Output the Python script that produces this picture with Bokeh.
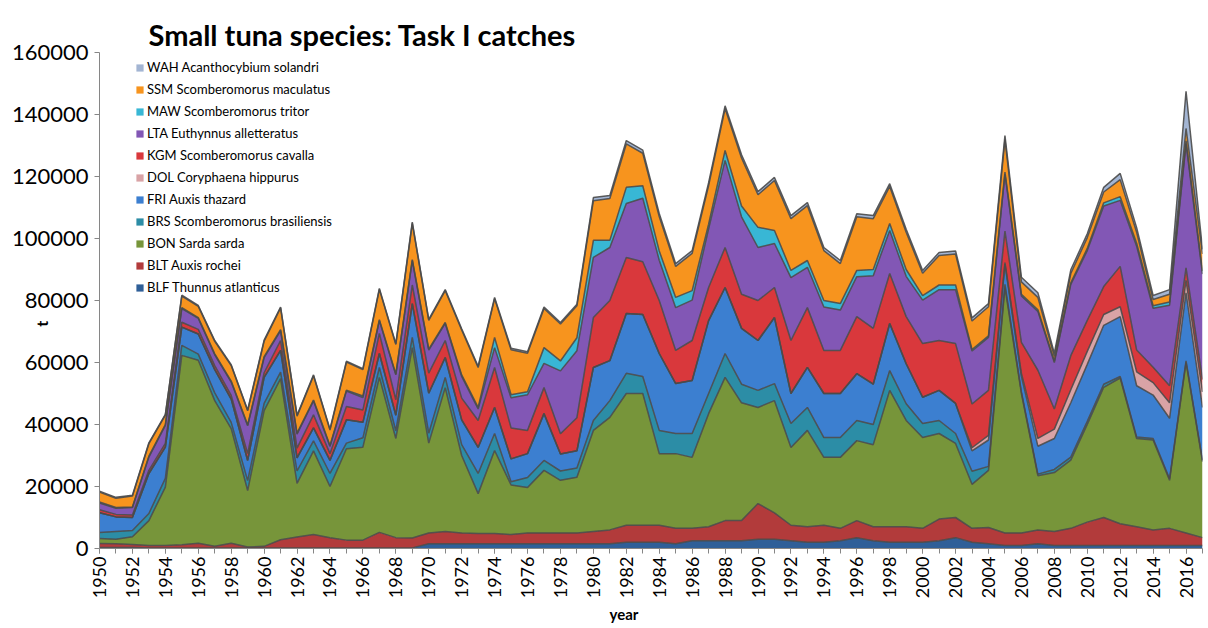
import numpy as np
from bokeh.plotting import figure
from bokeh.models import (ColumnDataSource, Range1d, SingleIntervalTicker,
                          NumeralTickFormatter, Legend, LegendItem, Title)
from bokeh.embed import file_html
from bokeh.resources import INLINE

years = list(range(1950, 2018))

BLF = [300, 300, 300, 200, 200, 200, 200, 200, 200, 200,
       200, 200, 200, 200, 200, 200, 200, 200, 200, 200,
       1500, 1500, 1500, 1500, 1500, 1500, 1500, 1500, 1500, 1500,
       1500, 1500, 2000, 2000, 2000, 1500, 2500, 2500, 2500, 2500,
       3000, 3000, 2500, 2000, 2000, 2500, 3500, 2500, 2000, 2000,
       2000, 2500, 3500, 2000, 1500, 1000, 1000, 1500, 1000, 1000,
       1000, 1000, 1000, 1000, 1000, 1000, 1000, 1000]
BLT = [1300, 1200, 1000, 800, 800, 1000, 1500, 500, 1500, 300,
       500, 2600, 3500, 4300, 3300, 2500, 2500, 5000, 3300, 3200,
       3500, 4000, 3500, 3300, 3300, 3000, 3500, 3500, 3500, 3500,
       4000, 4500, 5500, 5500, 5500, 5000, 4000, 4500, 6500, 6500,
       11500, 8500, 5000, 5000, 5500, 4000, 5500, 4500, 5000, 5000,
       4500, 7000, 6500, 4500, 5300, 4000, 4000, 4500, 4500, 5500,
       7500, 9000, 7000, 6000, 5000, 5500, 4000, 2500]
BON = [1600, 1500, 2500, 8000, 18800, 61100, 59000, 47000, 37000, 18200,
       43800, 52000, 17300, 27000, 16500, 29500, 30000, 50000, 32000, 61400,
       29000, 46400, 25000, 12900, 26800, 16000, 14700, 20200, 17000, 18000,
       32600, 36300, 42500, 42500, 23100, 24100, 22900, 36500, 46200, 38000,
       31000, 36200, 25100, 31100, 21900, 22900, 25800, 26500, 44000, 34300,
       29300, 27600, 23900, 14200, 18400, 79200, 45000, 17500, 19000, 22000,
       31500, 42000, 47000, 28500, 29000, 15500, 55000, 24500]
BRS = [2000, 2500, 2000, 2300, 2800, 3200, 2000, 2500, 2000, 3200,
       2300, 2100, 4000, 3200, 4200, 1800, 3000, 3200, 2500, 3300,
       3200, 3300, 3500, 6500, 5500, 1000, 3200, 3200, 3000, 3000,
       3200, 5400, 6500, 5500, 7500, 6500, 7700, 6500, 7700, 6000,
       5500, 5500, 7700, 7400, 6400, 6400, 6500, 6500, 6400, 5400,
       4500, 4200, 3200, 4200, 1300, 1000, 500, 500, 1000, 1000,
       1000, 1000, 500, 500, 500, 500, 500, 500]
FRI = [6300, 4700, 4200, 12900, 10100, 5900, 6500, 7500, 7500, 6500,
       8400, 7000, 4200, 4200, 4200, 7500, 5000, 4500, 5000, 10900,
       12900, 6400, 8000, 8400, 8400, 7400, 7700, 15100, 5500, 5500,
       17100, 12900, 19300, 20000, 24800, 16100, 17100, 23500, 21300, 18000,
       16100, 21300, 9700, 12900, 14200, 14200, 15100, 13000, 15200, 12900,
       8500, 9700, 9700, 6600, 8500, 6500, 5000, 9000, 10000, 17500,
       18400, 19000, 19300, 16500, 14000, 19500, 22000, 17000]
DOL = [0] * 53 + [1000, 1500, 500, 1000, 2500, 3000, 4200,
                  4200, 3500, 3200, 4500, 4000, 5000, 4000, 5000]
KGM = [1000, 800, 800, 1000, 1200, 1600, 1500, 1300, 1200, 2200,
       1500, 3200, 3200, 4200, 2200, 4300, 4000, 6500, 5000, 6000,
       6500, 5500, 7000, 8700, 12900, 10000, 7500, 8400, 6500, 10700,
       16100, 19400, 18100, 17000, 17100, 10700, 12900, 10700, 12900, 11000,
       12900, 9700, 17100, 19300, 13900, 13900, 18400, 18000, 16100, 15200,
       17300, 16100, 19300, 14100, 14500, 10200, 10000, 22000, 6500, 11000,
       10000, 9000, 13000, 7000, 5000, 5500, 4000, 4000]
LTA = [2200, 2000, 2400, 4300, 5800, 4400, 3500, 3500, 4300, 9000,
       4900, 3200, 4500, 4500, 2300, 5000, 4000, 4100, 8000, 7900,
       7400, 5500, 7000, 3700, 6400, 9700, 11500, 7800, 20300, 21600,
       19400, 17100, 17400, 20500, 13000, 13800, 13000, 18900, 28100, 25000,
       17100, 14200, 20300, 13000, 14000, 13000, 12900, 17000, 13900, 13000,
       14000, 16400, 17400, 17100, 17100, 18400, 15000, 19000, 15000, 23000,
       22500, 26000, 21300, 33500, 19000, 26000, 40000, 34000]
MAW = [300, 200, 200, 300, 300, 300, 300, 300, 300, 300,
       300, 300, 300, 300, 300, 300, 500, 300, 300, 300,
       300, 300, 500, 500, 3300, 1000, 1000, 5100, 3200, 4200,
       5500, 2300, 5200, 4000, 3000, 3300, 3100, 1500, 3200, 3500,
       6500, 4200, 2300, 2200, 2100, 2100, 2000, 2000, 2200, 2200,
       1500, 1500, 1500, 500, 500, 600, 500, 500, 500, 500,
       700, 1000, 1200, 1000, 800, 1000, 1000, 1000]
SSM = [3200, 3000, 3500, 4000, 3000, 3700, 3600, 4000, 5000, 4500,
       5000, 7000, 5500, 7800, 5000, 9000, 8500, 9800, 9500, 11700,
       9300, 10300, 14500, 12900, 12500, 14500, 12400, 12600, 11900, 10300,
       12800, 13500, 14000, 10500, 11100, 10000, 12000, 12500, 13500, 15500,
       10500, 16100, 16700, 17700, 16100, 12900, 17300, 16400, 12000, 12000,
       7200, 9500, 10000, 9200, 9400, 10500, 4000, 4000, 1500, 3000,
       3500, 3500, 5500, 3500, 2000, 2500, 4000, 5500]
WAH = [300, 300, 300, 300, 300, 300, 300, 300, 300, 300,
       300, 300, 300, 300, 300, 300, 300, 300, 300, 400,
       300, 300, 400, 400, 400, 500, 500, 500, 500, 500,
       1000, 1000, 1100, 1000, 1000, 900, 900, 900, 900, 1000,
       1000, 1000, 1000, 1000, 1000, 1000, 1000, 1000, 900, 1000,
       900, 1000, 1000, 1000, 1000, 1300, 1500, 1500, 1000, 1200,
       1200, 1500, 2000, 1500, 1300, 1500, 12000, 1500]

codes = ["BLF", "BLT", "BON", "BRS", "FRI", "DOL", "KGM", "LTA", "MAW", "SSM", "WAH"]
labels = ["BLF Thunnus atlanticus", "BLT Auxis rochei", "BON Sarda sarda",
          "BRS Scomberomorus brasiliensis", "FRI Auxis thazard",
          "DOL Coryphaena hippurus", "KGM Scomberomorus cavalla",
          "LTA Euthynnus alletteratus", "MAW Scomberomorus tritor",
          "SSM Scomberomorus maculatus", "WAH Acanthocybium solandri"]
colors = ["#2F5F98", "#B23B3B", "#77953A", "#2C8DA6", "#3C7FD0", "#D9A3A6",
          "#D9383C", "#8257B5", "#38B7D5", "#F7941E", "#A3B5D3"]

series = [BLF, BLT, BON, BRS, FRI, DOL, KGM, LTA, MAW, SSM, WAH]
data = {"year": years}
for c, s in zip(codes, series):
    data[c] = s
src = ColumnDataSource(data)

FONT = "Lato"

p = figure(width=1204, height=626, output_backend="svg", toolbar_location=None,
           x_range=Range1d(1950, 2017), y_range=Range1d(0, 160000),
           min_border_left=99, min_border_right=2, min_border_top=52,
           min_border_bottom=78)
p.outline_line_color = None
p.grid.grid_line_color = None

p.title.text = "Small tuna species: Task I catches"
p.title.align = "left"
p.title.offset = 49
p.title.standoff = 1
p.title.text_font = FONT
p.title.text_font_style = "bold"
p.title.text_font_size = "29px"
p.title.text_color = "#000000"

areas = p.varea_stack(stackers=codes, x="year", color=colors, source=src)

cum = np.cumsum(np.array(series, dtype=float), axis=0)
for row in cum:
    p.line(years, list(row), line_color="#4A4A4A", line_width=1.5, line_alpha=0.9)

# axes
xa = p.xaxis[0]
xa.ticker = SingleIntervalTicker(interval=2, num_minor_ticks=2)
xa.major_label_orientation = np.pi / 2
xa.major_label_text_font = FONT
xa.major_label_text_font_size = "18px"
xa.major_label_text_color = "#000000"
xa.major_label_standoff = 3
xa.axis_line_color = "#868686"
xa.major_tick_line_color = "#868686"
xa.minor_tick_line_color = "#868686"
xa.major_tick_in = 0
xa.major_tick_out = 5
xa.minor_tick_in = 0
xa.minor_tick_out = 5

ya = p.yaxis[0]
ya.ticker = SingleIntervalTicker(interval=20000, num_minor_ticks=0)
ya.formatter = NumeralTickFormatter(format="0")
ya.major_label_text_font = FONT
ya.major_label_text_font_size = "22px"
ya.major_label_text_color = "#000000"
ya.major_label_standoff = 6
ya.axis_line_color = "#868686"
ya.major_tick_line_color = "#868686"
ya.major_tick_in = 0
ya.major_tick_out = 5
ya.axis_label = "t" + "\u00a0" * 12
ya.axis_label_standoff = -42
ya.axis_label_text_font = FONT
ya.axis_label_text_font_style = "bold"
ya.axis_label_text_font_size = "16px"
ya.axis_label_text_color = "#000000"

year_title = Title(text="year", align="left", offset=510, standoff=2,
                   text_font=FONT, text_font_style="bold", text_font_size="15px",
                   text_color="#000000")
p.add_layout(year_title, "below")

# legend
items = [LegendItem(label=lab, renderers=[r]) for lab, r in zip(labels, areas)][::-1]
leg = Legend(items=items, location=(36, 250), margin=0, padding=0, spacing=0,
             label_height=22, glyph_height=9, glyph_width=9, label_standoff=3,
             label_text_font=FONT, label_text_font_size="13px",
             label_text_color="#000000", background_fill_alpha=0,
             border_line_alpha=0)
p.add_layout(leg)

open("out.html", "w").write(file_html(p, INLINE))
